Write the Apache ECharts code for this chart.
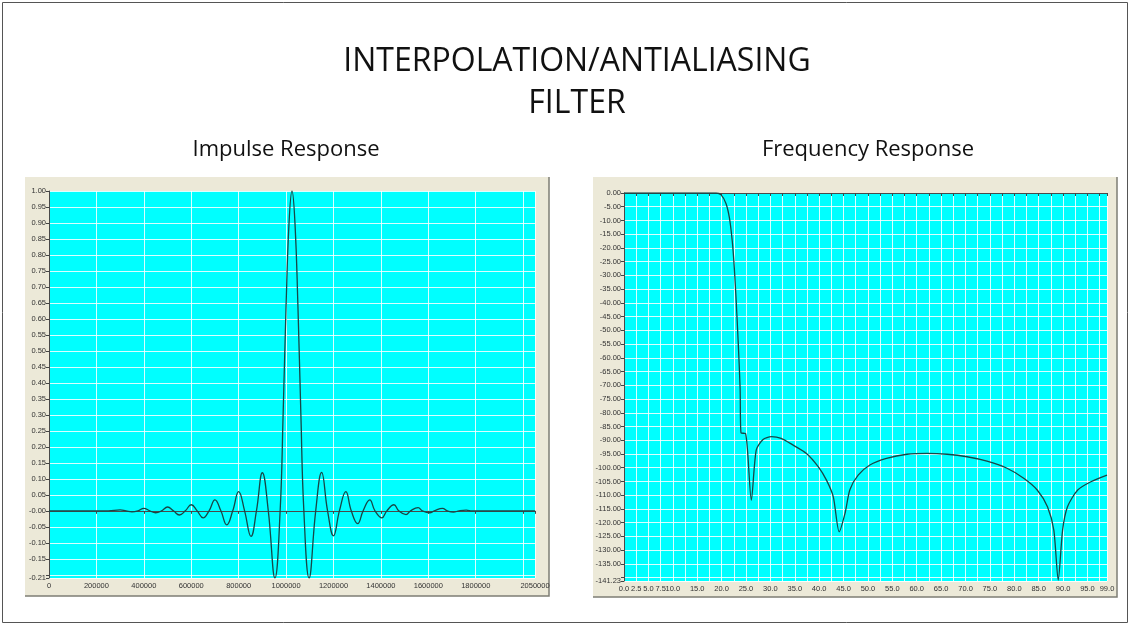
<!DOCTYPE html>
<html>
<head>
<meta charset="utf-8">
<script src="https://cdn.jsdelivr.net/npm/echarts@6/dist/echarts.min.js"></script>
<style>
html,body{margin:0;padding:0;background:#fff;}
#c{width:1130px;height:625px;}
</style>
</head>
<body>
<div id="c"></div>
<script>
// ---- Texts ----
var mainTitleLine1 = 'INTERPOLATION/ANTIALIASING';
var mainTitleLine2 = 'FILTER';
var leftTitle = 'Impulse Response';
var rightTitle = 'Frequency Response';

// ---- Impulse response (x = sample time, y = amplitude) ----
var impulseX = [0, 250000, 300000, 325000, 350000, 375000, 400000, 425000, 450000, 475000,
  500000, 525000, 550000, 575000, 600000, 625000, 650000, 675000, 700000, 725000,
  750000, 775000, 800000, 825000, 852000, 875000, 900000, 925000, 953000, 975000,
  987500, 1000000, 1012500, 1025000, 1037500, 1050000, 1062500, 1075000, 1097000, 1125000,
  1150000, 1175000, 1200000, 1225000, 1252000, 1275000, 1302000, 1325000, 1353000, 1375000,
  1404000, 1425000, 1455000, 1475000, 1506000, 1525000, 1557000, 1575000, 1606000, 1625000,
  1660000, 1680000, 1706000, 1730000, 1760000, 1785000, 1800000, 2050000];
var impulseY = [0, 0, 0.003, 0, -0.003, 0, 0.008, 0, -0.006, 0,
  0.012, 0, -0.013, 0, 0.019, 0, -0.022, 0, 0.034, 0,
  -0.044, 0, 0.06, 0, -0.08, 0, 0.119, 0, -0.21, 0,
  0.30, 0.64, 0.90, 1.00, 0.90, 0.64, 0.30, 0, -0.21, 0,
  0.12, 0, -0.078, 0, 0.06, 0, -0.04, 0, 0.034, 0,
  -0.022, 0, 0.019, 0, -0.012, 0, 0.01, 0, -0.006, 0,
  0.008, 0, -0.004, 0, 0.002, 0, 0, 0];

// ---- Frequency response (x = frequency, y = dB) ----
var freqX = [0, 10, 18.9, 19.9, 20.9, 21.6, 22.2, 22.6, 23.0, 23.4, 23.8, 24.0, 24.9, 26.1,
  27.1, 28.5, 30.2, 32.2, 34.6, 37.4, 39.8, 41.5, 42.9, 44.1, 45.3, 46.3, 48.0, 50.4,
  53.8, 58.0, 62.1, 66.2, 70.3, 74.4, 78.5, 82.0, 84.7, 86.8, 88.1, 89.0, 89.9, 90.9,
  93.0, 95.7, 99.0];
var freqY = [0, 0, 0, -0.7, -3.8, -9, -17.7, -27, -39.5, -54, -71, -87.4, -87.5, -111.8,
  -93.6, -89.7, -88.7, -89.3, -91.7, -94.8, -99.6, -104.5, -110.6, -123.3, -116.6, -108, -102.7, -99,
  -96.6, -95.1, -94.8, -95.1, -96, -97.6, -100.2, -103.9, -108.1, -114.2, -122.7, -140.9, -122.7, -114.2,
  -108.1, -105.1, -102.7];

// ---- Axis ticks / labels ----
var impulseYTicks = [-0.21, -0.20, -0.15, -0.10, -0.05, 0, 0.05, 0.10, 0.15, 0.20, 0.25, 0.30, 0.35,
  0.40, 0.45, 0.50, 0.55, 0.60, 0.65, 0.70, 0.75, 0.80, 0.85, 0.90, 0.95, 1.00];
var impulseYLabels = [-0.21, -0.15, -0.10, -0.05, 0, 0.05, 0.10, 0.15, 0.20, 0.25, 0.30, 0.35,
  0.40, 0.45, 0.50, 0.55, 0.60, 0.65, 0.70, 0.75, 0.80, 0.85, 0.90, 0.95, 1.00];
var impulseXLabels = [0, 200000, 400000, 600000, 800000, 1000000, 1200000, 1400000, 1600000, 1800000, 2050000];

var freqYTicks = [-141.23, -140, -135, -130, -125, -120, -115, -110, -105, -100, -95, -90, -85, -80,
  -75, -70, -65, -60, -55, -50, -45, -40, -35, -30, -25, -20, -15, -10, -5, 0];
var freqYLabels = [-141.23, -135, -130, -125, -120, -115, -110, -105, -100, -95, -90, -85, -80,
  -75, -70, -65, -60, -55, -50, -45, -40, -35, -30, -25, -20, -15, -10, -5, 0];
var freqXLabels = [0, 2.5, 5, 7.5, 10, 15, 20, 25, 30, 35, 40, 45, 50, 55, 60, 65, 70, 75, 80, 85, 90, 95, 99];

function pairs(xs, ys) { return xs.map(function (x, i) { return [x, ys[i]]; }); }

var chart = echarts.init(document.getElementById('c'), null, {renderer: 'canvas'});

var labelFont = {fontSize: 7.5, color: '#333', fontFamily: 'Liberation Sans, Arial, sans-serif'};
var gridLine = {show: true, lineStyle: {color: 'rgba(255,255,255,0.85)', width: 1}};
var axisLineStyle = {show: true, lineStyle: {color: '#4a4a4a', width: 1}};
var tickStyle = {show: true, length: 3, lineStyle: {color: '#444'}};

function fmt2(v) {
  var s = Number(v).toFixed(2);
  if (Math.abs(v) < 1e-9) s = '-0.00';
  return s;
}
function fmt2f(v) { return Number(v).toFixed(2); }

var option = {
  backgroundColor: '#ffffff',
  animation: false,
  graphic: [
    {type: 'rect', shape: {x: 2.5, y: 2.5, width: 1125, height: 620}, style: {fill: 'none', stroke: '#555', lineWidth: 1}, z: -10},
    {type: 'rect', shape: {x: 25, y: 177, width: 524, height: 419}, style: {fill: '#ece9d8'}, z: -5},
    {type: 'polyline', shape: {points: [[549, 177], [549, 596], [25, 596]]}, style: {stroke: '#7d7d74', lineWidth: 1.5, fill: 'none'}, z: -4},
    {type: 'rect', shape: {x: 593, y: 177, width: 524, height: 420}, style: {fill: '#ece9d8'}, z: -5},
    {type: 'polyline', shape: {points: [[1117, 177], [1117, 597], [593, 597]]}, style: {stroke: '#7d7d74', lineWidth: 1.5, fill: 'none'}, z: -4},
    {type: 'text', x: 577, y: 62, style: {text: mainTitleLine1, fontSize: 32, fontFamily: 'Liberation Sans Narrow, Open Sans, sans-serif', fill: '#111', align: 'center', verticalAlign: 'middle'}},
    {type: 'text', x: 577, y: 104, style: {text: mainTitleLine2, fontSize: 32, fontFamily: 'Liberation Sans Narrow, Open Sans, sans-serif', fill: '#111', align: 'center', verticalAlign: 'middle'}},
    {type: 'text', x: 286, y: 150, style: {text: leftTitle, fontSize: 22, fontFamily: 'Liberation Sans Narrow, Open Sans, sans-serif', fill: '#111', align: 'center', verticalAlign: 'middle'}},
    {type: 'text', x: 868, y: 150, style: {text: rightTitle, fontSize: 22, fontFamily: 'Liberation Sans Narrow, Open Sans, sans-serif', fill: '#111', align: 'center', verticalAlign: 'middle'}}
  ],
  grid: [
    {left: 49, top: 191, right: 595, bottom: 47, show: true, backgroundColor: '#00ffff', borderWidth: 0},
    {left: 624, top: 193, right: 23, bottom: 44, show: true, backgroundColor: '#00ffff', borderWidth: 0}
  ],
  xAxis: [
    {type: 'value', gridIndex: 0, min: 0, max: 2050000,
      axisLine: axisLineStyle, splitLine: gridLine,
      axisTick: {show: true, length: 3, lineStyle: {color: '#444'}, customValues: [0, 200000, 400000, 600000, 800000, 1000000, 1200000, 1400000, 1600000, 1800000, 2000000, 2050000]},
      axisLabel: Object.assign({margin: 4, customValues: impulseXLabels, formatter: function (v) { return String(Math.round(v)); }}, labelFont)
    },
    {type: 'value', gridIndex: 1, min: 0, max: 99, interval: 2.5,
      axisLine: axisLineStyle, splitLine: gridLine,
      axisTick: tickStyle,
      axisLabel: Object.assign({margin: 4, customValues: freqXLabels, formatter: function (v) { return Number(v).toFixed(1); }}, labelFont)
    }
  ],
  yAxis: [
    {type: 'value', gridIndex: 0, min: -0.21, max: 1.0,
      axisLine: axisLineStyle, splitLine: gridLine,
      axisTick: {show: true, length: 3, lineStyle: {color: '#444'}, customValues: impulseYTicks},
      axisLabel: Object.assign({margin: 3, customValues: impulseYLabels, formatter: fmt2}, labelFont)
    },
    {type: 'value', gridIndex: 1, min: -141.23, max: 0,
      axisLine: axisLineStyle, splitLine: gridLine,
      axisTick: {show: true, length: 3, lineStyle: {color: '#444'}, customValues: freqYTicks},
      axisLabel: Object.assign({margin: 3, customValues: freqYLabels, formatter: fmt2f}, labelFont)
    }
  ],
  series: [
    {type: 'line', xAxisIndex: 0, yAxisIndex: 0, data: pairs(impulseX, impulseY), smooth: 0.45,
      showSymbol: false, lineStyle: {color: '#174747', width: 1.3}, clip: true},
    {type: 'line', xAxisIndex: 1, yAxisIndex: 1, data: pairs(freqX, freqY), smooth: 0.25,
      showSymbol: false, lineStyle: {color: '#174747', width: 1.3}, clip: true}
  ]
};
chart.setOption(option);
</script>
</body>
</html>
